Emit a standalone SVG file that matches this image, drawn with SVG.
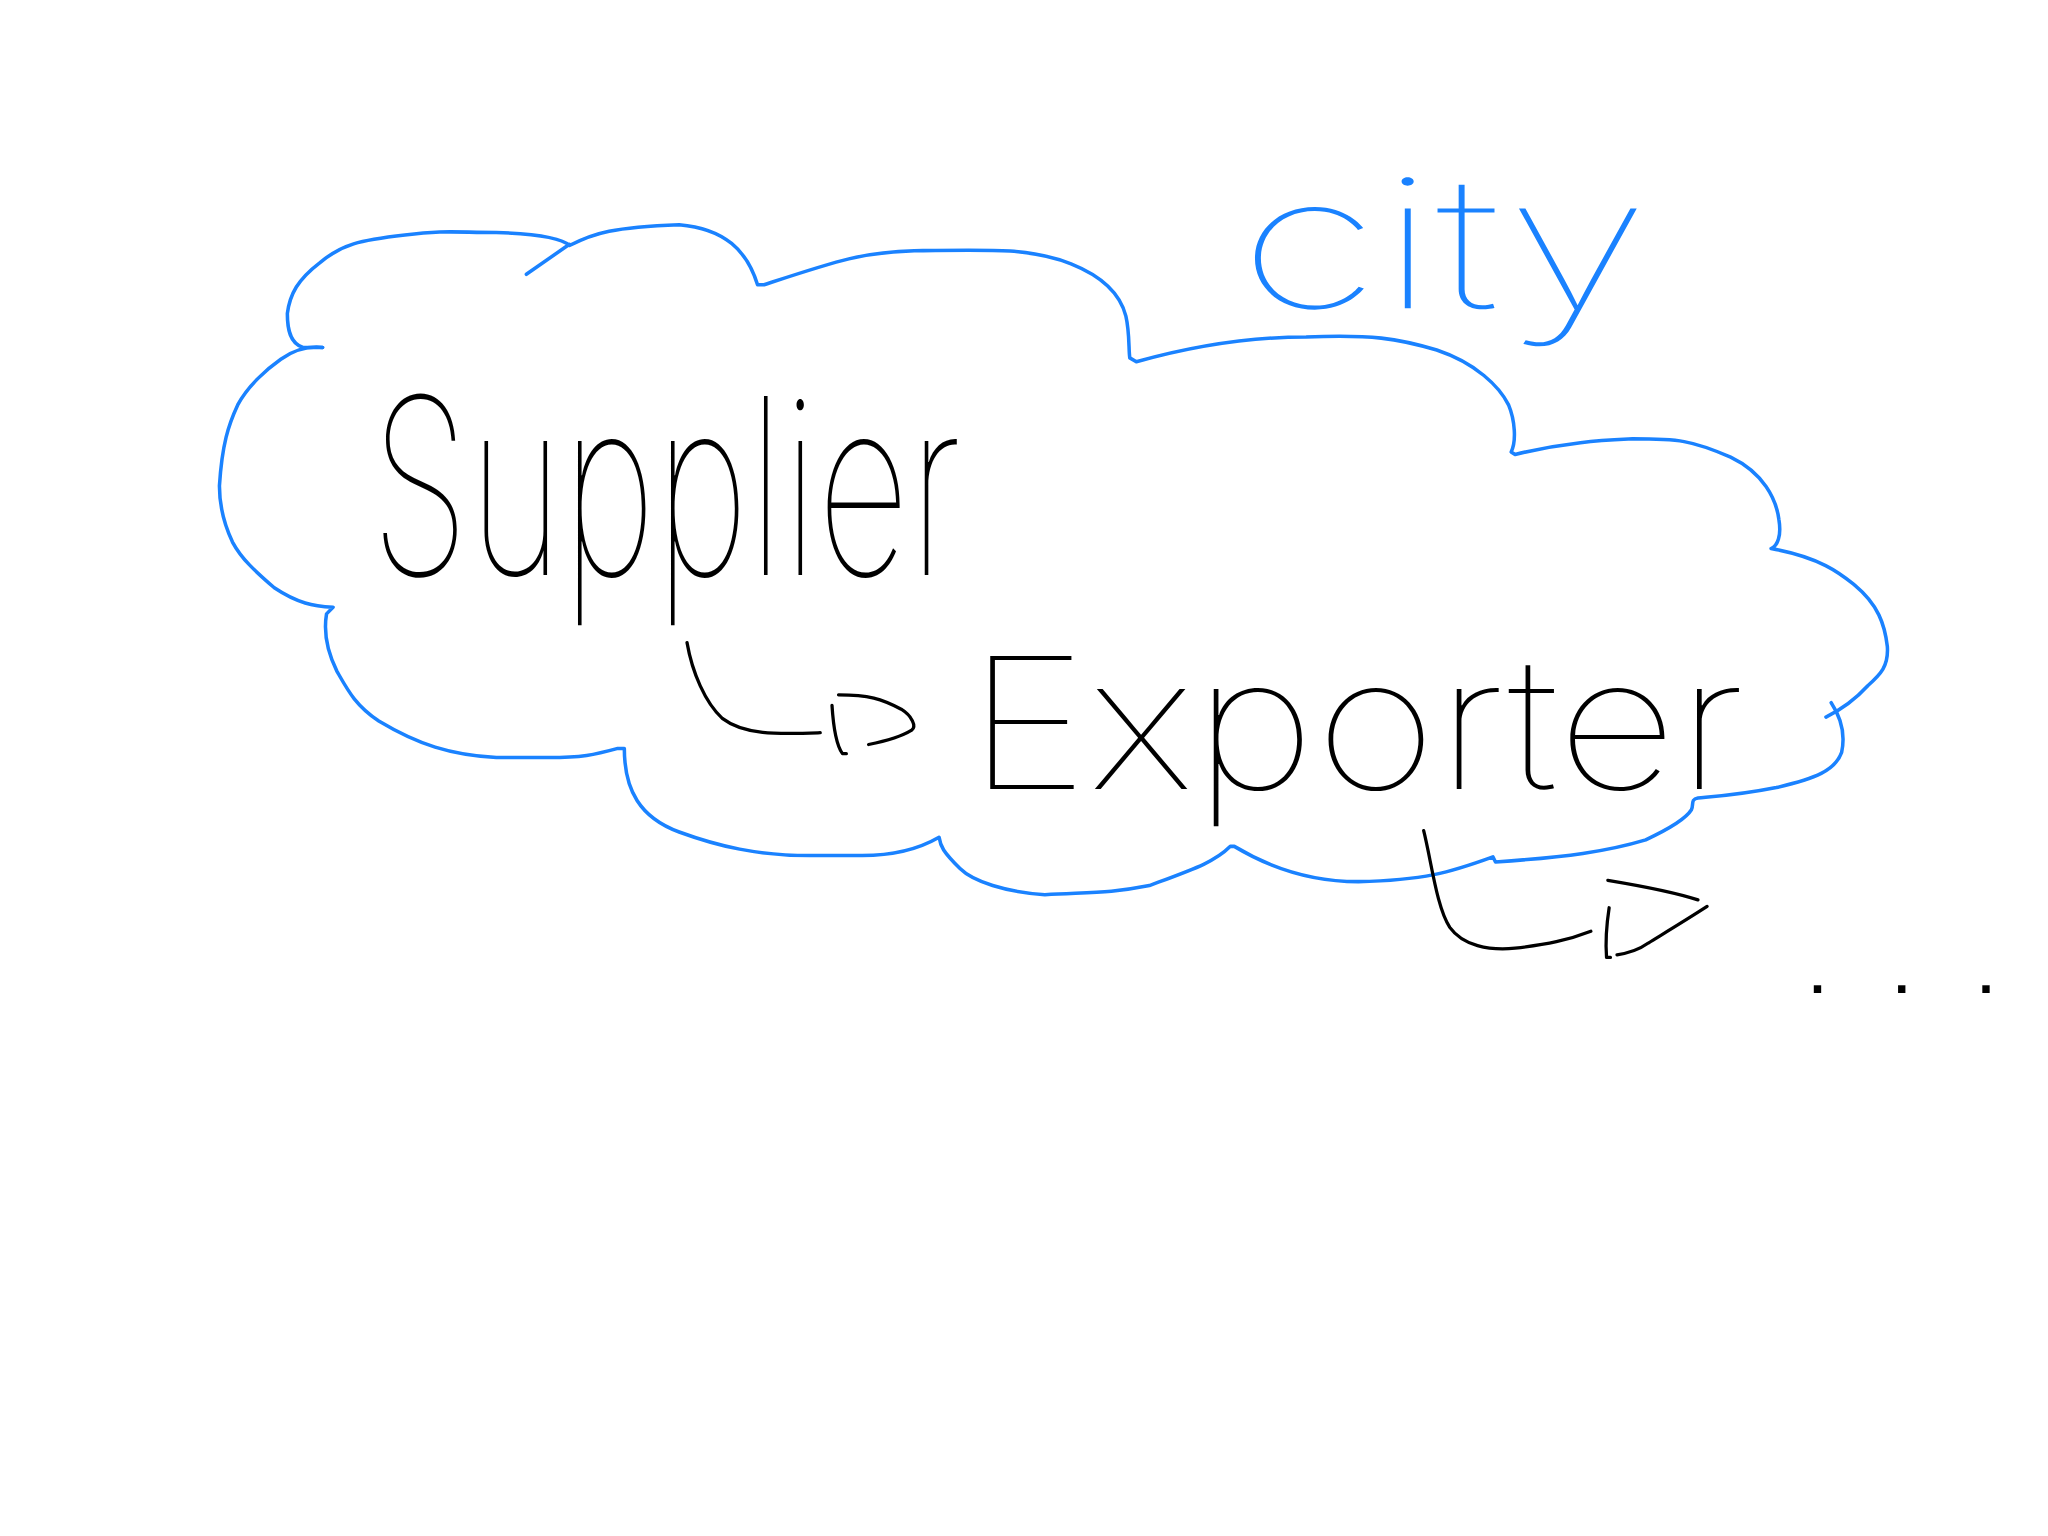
<svg xmlns="http://www.w3.org/2000/svg" width="2048" height="1536" viewBox="0 0 2048 1536">
<style>
.cloud{fill:none;stroke:#1a82ff;stroke-width:2.7;stroke-linecap:round;stroke-linejoin:round}
.ink{fill:none;stroke:#000;stroke-width:2.5;stroke-linecap:round;stroke-linejoin:round}
.lbl{font-family:Inter,"Liberation Sans",sans-serif;font-weight:100;fill:#000}
.blue{fill:#1a82ff}
.dots{font-family:"Liberation Sans",sans-serif;font-weight:700;fill:#000}
</style>
<rect width="2048" height="1536" fill="#fff"/>
<g transform="scale(1.306122)">
<g id="city">
<path class="cloud" d="M247,266 L232,266 C222,263 220,252 220,240 C222,225 228,214 245,201 C262,187 275,184 310,180 C340,176 350,178 380,178 C410,179 430,182 436,188 C455,178 470,174 520,172 C555,175 572,192 580,218 L585,218 C640,200 660,193 700,192 C760,191 790,190 820,202 C845,212 858,226 862,242 C865,255 864,268 865,274 L870,277 C920,263 960,258 1000,258 C1050,256 1070,259 1100,268 C1130,278 1148,296 1155,310 C1160,322 1161,338 1157,346 L1160,348 C1200,338 1230,337 1250,336 C1285,336 1295,337 1325,350 C1350,362 1360,382 1362,398 C1364,410 1361,418 1356,420 C1395,427 1410,440 1420,448 C1438,463 1443,478 1445,495 C1446,510 1440,516 1430,525 C1420,536 1410,543 1398,549"/>
<path class="cloud" d="M1402,538 C1410,550 1413,562 1410,576 C1405,590 1390,596 1360,603 C1330,609 1310,610 1300,611 C1294,612 1297,616 1295,620 C1290,628 1275,636 1260,643 C1230,652 1200,656 1145,660 L1143,656 C1110,668 1090,674 1040,675 C1000,675 970,663 945,648 L942,648 C930,660 915,665 880,678 C850,684 835,683 800,685 C770,683 745,675 735,665 C722,652 720,648 719,641 C700,652 680,655 660,655 L620,655 C580,655 550,648 520,637 C490,626 478,605 478,573 L473,573 C455,578 445,580 420,580 L380,580 C345,578 320,570 290,552 C272,540 266,528 258,514 C250,498 248,482 250,470 L255,465 C240,464 228,462 210,450 C195,437 185,428 178,415 C170,398 168,385 168,372 C170,340 175,325 182,310 C190,295 205,282 215,275 C228,266 238,265 247,266"/>
<path class="cloud" d="M403,210 L436,187"/>
<text x="948" y="236" class="lbl blue" font-size="140" textLength="315" lengthAdjust="spacingAndGlyphs">city</text>
</g>
<g id="supplier">
<text x="284" y="440" class="lbl" font-size="188" textLength="452" lengthAdjust="spacingAndGlyphs">Supplier</text>
</g>
<g id="exporter">
<text x="740" y="604" class="lbl" font-size="140" textLength="596" lengthAdjust="spacingAndGlyphs">Exporter</text>
</g>
<g id="more">
<text x="1386" y="760" class="dots" font-size="40" textLength="140" lengthAdjust="spacing">...</text>
</g>
<g id="connectors">
<path class="ink" d="M526,492 C530,515 540,538 553,550 C570,563 595,562 628,561"/>
<path class="ink" d="M637,540 C638,556 640,570 645,577 L648,577"/>
<path class="ink" d="M642,532 C665,532 675,535 690,543 C698,548 702,556 698,559 C690,564 680,567 665,570"/>
<path class="ink" d="M1090,636 C1096,660 1100,695 1110,710 C1120,724 1140,728 1160,726 C1185,723 1200,720 1218,713"/>
<path class="ink" d="M1232,695 C1230,708 1229,720 1230,733 L1233,733"/>
<path class="ink" d="M1231,674 C1255,678 1285,684 1300,689"/>
<path class="ink" d="M1307,694 C1290,705 1275,714 1262,722 C1255,727 1245,730 1238,731"/>
</g>
</g>
</svg>
